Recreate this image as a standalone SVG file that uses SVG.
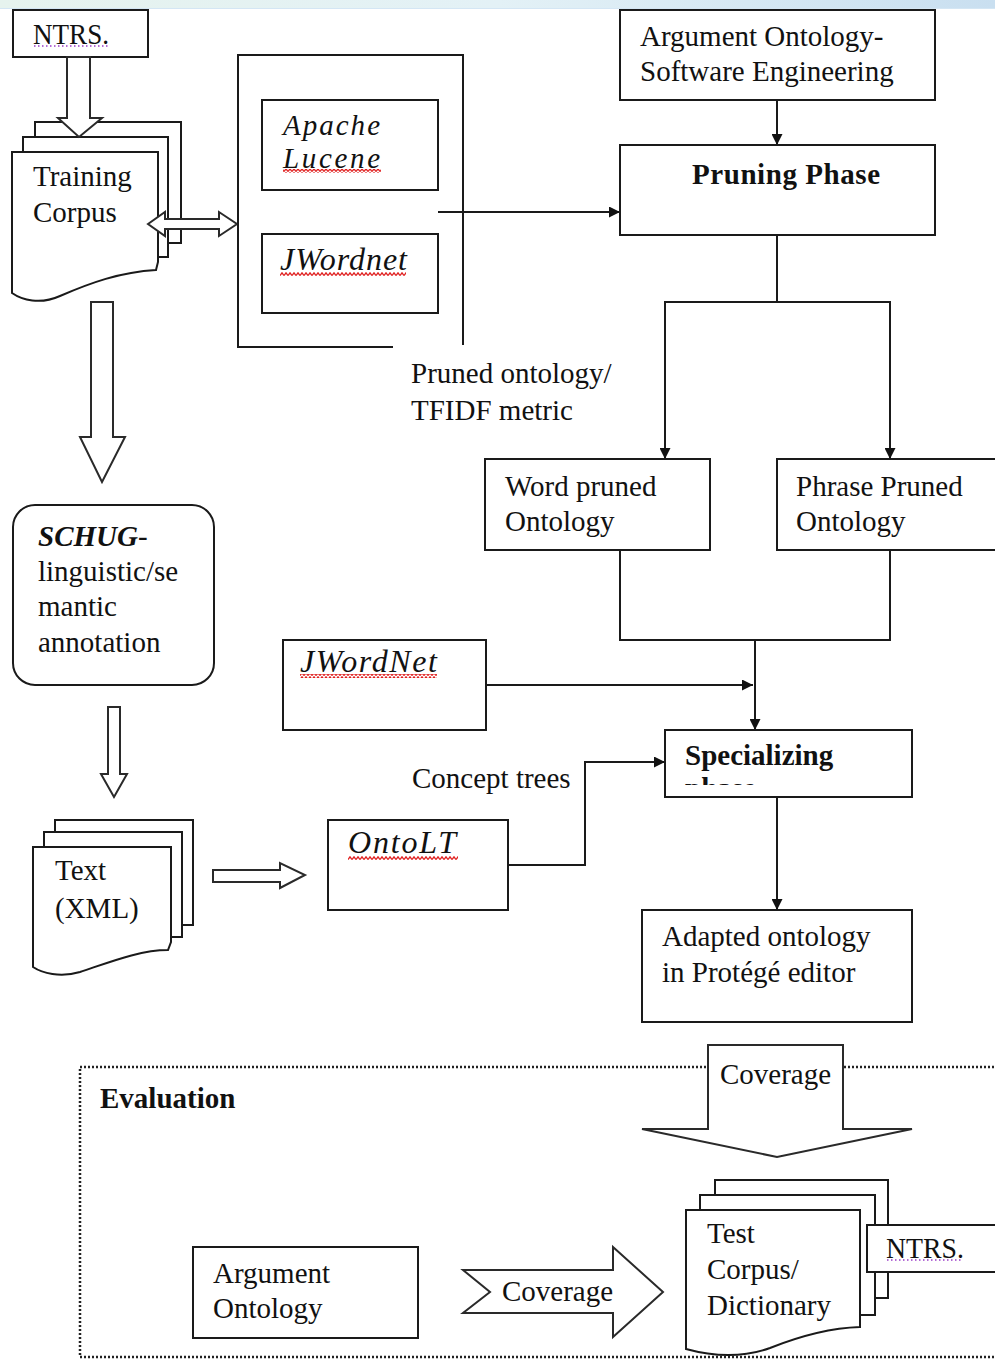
<svg xmlns="http://www.w3.org/2000/svg" width="995" height="1360" viewBox="0 0 995 1360">
<style>
.t{font-family:"Liberation Serif","Times New Roman",serif;font-size:29px;fill:#111}
.b{font-weight:bold}
.i{font-style:italic;font-size:32px}
.box{fill:#fff;stroke:#1a1a1a;stroke-width:2}
.ln{fill:none;stroke:#1a1a1a;stroke-width:2}
.ar{fill:#fff;stroke:#2a2a2a;stroke-width:2;stroke-linejoin:miter}
.wv{fill:url(#wave)}
.dot{stroke:#9a3cc8;stroke-width:1.5;stroke-dasharray:1.5,2.5}
</style>
<defs>
<linearGradient id="band" x1="0" y1="0" x2="1" y2="0">
<stop offset="0" stop-color="#e6f3ee"/>
<stop offset="0.5" stop-color="#e3f1f6"/>
<stop offset="1" stop-color="#c9dff0"/>
</linearGradient>
<pattern id="wave" x="0" y="0" width="4" height="4" patternUnits="userSpaceOnUse">
<path d="M0,3.5 L2,0.8 L4,3.5" fill="none" stroke="#e02020" stroke-width="1.3"/>
</pattern>
<marker id="ah" viewBox="0 0 10 10" refX="10" refY="5" markerWidth="11" markerHeight="11" markerUnits="userSpaceOnUse" orient="auto">
<path d="M0,0 L10,5 L0,10 z" fill="#111"/>
</marker>
<clipPath id="specClip"><rect x="665" y="730" width="247" height="55"/></clipPath>
</defs>

<rect x="0" y="0" width="995" height="9" fill="url(#band)"/>
<line x1="0" y1="8.5" x2="995" y2="8.5" stroke="#d4e6f4" stroke-width="1"/>

<g id="evaluation">
<rect x="80" y="1067" width="930" height="290" fill="none" stroke="#222" stroke-width="2.5" stroke-dasharray="2,2"/>
<text class="t b" x="100" y="1108">Evaluation</text>
</g>

<g id="connectors">
<line class="ln" x1="777" y1="100" x2="777" y2="145" marker-end="url(#ah)"/>
<line class="ln" x1="438" y1="212" x2="620" y2="212" marker-end="url(#ah)"/>
<polyline class="ln" points="777,235 777,302 665,302 665,459" marker-end="url(#ah)"/>
<polyline class="ln" points="777,302 890,302 890,459" marker-end="url(#ah)"/>
<polyline class="ln" points="620,550 620,640 890,640 890,550"/>
<line class="ln" x1="755" y1="640" x2="755" y2="730" marker-end="url(#ah)"/>
<line class="ln" x1="486" y1="685" x2="753" y2="685" marker-end="url(#ah)"/>
<polyline class="ln" points="508,865 585,865 585,762 665,762" marker-end="url(#ah)"/>
<line class="ln" x1="777" y1="797" x2="777" y2="910" marker-end="url(#ah)"/>
</g>

<g id="ntrs-top">
<rect class="box" x="13" y="10" width="135" height="47"/>
<text class="t" x="33" y="44" textLength="76" lengthAdjust="spacingAndGlyphs">NTRS.</text>
<line class="dot" x1="34" y1="46" x2="110" y2="46"/>
</g>

<g id="training-corpus">
<rect class="box" x="35" y="122" width="146" height="121"/>
<rect class="box" x="23" y="137" width="145" height="120"/>
<path class="box" d="M12,152 H158 V262 L156,270 C120,272 90,283 60,296 C40,305 22,300 12,293 Z"/>
<text class="t" x="33" y="186">Training</text>
<text class="t" x="33" y="222">Corpus</text>
</g>

<g id="block-arrows">
<polygon class="ar" points="67,57 90,57 90,118 102,118 79,137 58,118 67,118"/>
<polygon class="ar" points="148,224 165,212 165,219 219,219 219,212 237,224 219,236 219,229 165,229 165,236"/>
<polygon class="ar" points="91,302 113,302 113,437 125,437 102,482 80,437 91,437"/>
<polygon class="ar" points="108,707 120,707 120,774 127,774 114,797 101,774 108,774"/>
<polygon class="ar" points="213,870 280,870 280,863 305,875 280,888 280,882 213,882"/>
</g>

<g id="tools-container">
<path class="ln" d="M393,347 H238 V55 H463 V345"/>
</g>

<g id="apache-lucene">
<rect class="box" x="262" y="100" width="176" height="90"/>
<text class="t" x="283" y="135" font-style="italic" textLength="97" lengthAdjust="spacing">Apache</text>
<text class="t" x="283" y="168" font-style="italic" textLength="97" lengthAdjust="spacing">Lucene</text>
<rect class="wv" x="283" y="169" width="98" height="4"/>
</g>

<g id="jwordnet-1">
<rect class="box" x="262" y="234" width="176" height="79"/>
<text class="t i" x="280" y="270" textLength="127" lengthAdjust="spacing">JWordnet</text>
<rect class="wv" x="280" y="272" width="126" height="4"/>
</g>

<g id="argument-ontology-se">
<rect class="box" x="620" y="10" width="315" height="90"/>
<text class="t" x="640" y="46">Argument Ontology-</text>
<text class="t" x="640" y="81">Software Engineering</text>
</g>

<g id="pruning-phase">
<rect class="box" x="620" y="145" width="315" height="90"/>
<text class="t b" x="692" y="184" textLength="188" lengthAdjust="spacing">Pruning Phase</text>
</g>

<g id="pruned-label">
<text class="t" x="411" y="383">Pruned ontology/</text>
<text class="t" x="411" y="420">TFIDF metric</text>
</g>

<g id="word-pruned">
<rect class="box" x="485" y="459" width="225" height="91"/>
<text class="t" x="505" y="496">Word pruned</text>
<text class="t" x="505" y="531">Ontology</text>
</g>

<g id="phrase-pruned">
<rect class="box" x="777" y="459" width="240" height="91"/>
<text class="t" x="796" y="496">Phrase Pruned</text>
<text class="t" x="796" y="531">Ontology</text>
</g>

<g id="schug">
<rect class="box" x="13" y="505" width="201" height="180" rx="22" ry="22"/>
<text class="t" x="38" y="546"><tspan class="b" font-style="italic">SCHUG</tspan>-</text>
<text class="t" x="38" y="581">linguistic/se</text>
<text class="t" x="38" y="616">mantic</text>
<text class="t" x="38" y="652">annotation</text>
</g>

<g id="jwordnet-2">
<rect class="box" x="283" y="640" width="203" height="90"/>
<text class="t i" x="300" y="672" textLength="137" lengthAdjust="spacing">JWordNet</text>
<rect class="wv" x="300" y="674" width="137" height="4"/>
</g>

<g id="specializing">
<rect class="box" x="665" y="730" width="247" height="67"/>
<text class="t b" x="685" y="765">Specializing</text>
<text class="t b" x="685" y="798" clip-path="url(#specClip)">phase</text>
</g>

<g id="concept-trees-label">
<text class="t" x="412" y="788">Concept trees</text>
</g>

<g id="text-xml">
<rect class="box" x="55" y="820" width="138" height="105"/>
<rect class="box" x="44" y="832" width="138" height="105"/>
<path class="box" d="M33,847 H171 V942 L168,950 C140,950 110,962 80,972 C60,978 42,973 33,967 Z"/>
<text class="t" x="55" y="880">Text</text>
<text class="t" x="55" y="918">(XML)</text>
</g>

<g id="ontolt">
<rect class="box" x="328" y="820" width="180" height="90"/>
<text class="t i" x="348" y="853" textLength="108" lengthAdjust="spacing">OntoLT</text>
<rect class="wv" x="348" y="856" width="110" height="4"/>
</g>

<g id="adapted-ontology">
<rect class="box" x="642" y="910" width="270" height="112"/>
<text class="t" x="662" y="946">Adapted ontology</text>
<text class="t" x="662" y="982">in Protégé editor</text>
</g>

<g id="coverage-down">
<polygon class="ar" points="708,1045 843,1045 843,1129 912,1129 777,1157 642,1129 708,1129"/>
<text class="t" x="720" y="1084">Coverage</text>
</g>

<g id="test-corpus">
<rect class="box" x="715" y="1180" width="173" height="118"/>
<rect class="box" x="700" y="1195" width="175" height="120"/>
<path class="box" d="M686,1210 H860 V1327 C830,1328 800,1336 770,1348 C745,1357 715,1357 686,1349 Z"/>
<text class="t" x="707" y="1243">Test</text>
<text class="t" x="707" y="1279">Corpus/</text>
<text class="t" x="707" y="1315">Dictionary</text>
</g>

<g id="ntrs-bottom">
<rect class="box" x="867" y="1225" width="140" height="47"/>
<text class="t" x="886" y="1258" textLength="78" lengthAdjust="spacingAndGlyphs">NTRS.</text>
<line class="dot" x1="887" y1="1260" x2="963" y2="1260"/>
</g>

<g id="argument-ontology">
<rect class="box" x="193" y="1247" width="225" height="91"/>
<text class="t" x="213" y="1283">Argument</text>
<text class="t" x="213" y="1318">Ontology</text>
</g>

<g id="coverage-right">
<polygon class="ar" points="463,1270 613,1270 613,1247 663,1292 613,1337 613,1313 463,1313 490,1292"/>
<text class="t" x="502" y="1301">Coverage</text>
</g>
</svg>
